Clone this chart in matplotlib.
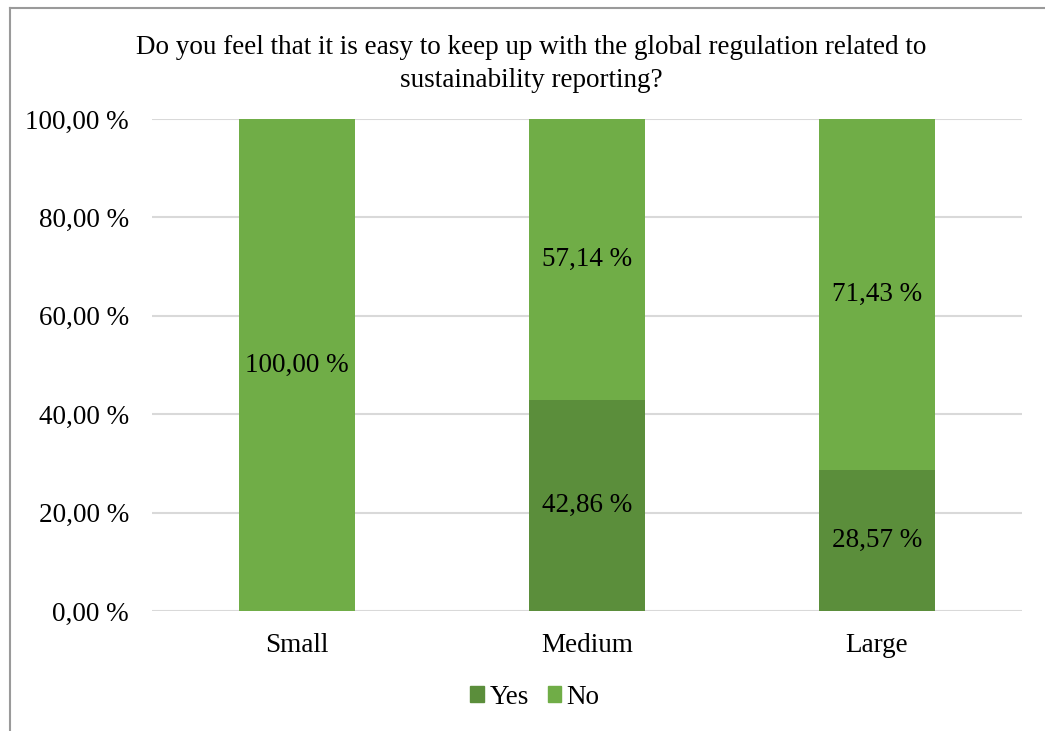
import matplotlib
matplotlib.use("Agg")
import matplotlib.pyplot as plt
from matplotlib.lines import Line2D

categories = ["Small", "Medium", "Large"]
yes_values = [0.0, 42.86, 28.57]
no_values = [100.0, 57.14, 71.43]
series_names = ["Yes", "No"]
yticks = [0, 20, 40, 60, 80, 100]

plt.rcParams["font.family"] = ["Liberation Serif", "DejaVu Serif"]

YES_COLOR = "#5B8E3B"
NO_COLOR = "#70AD47"

fig = plt.figure(figsize=(10.45, 7.31), dpi=100)
ax = fig.add_axes([152 / 1045, 1 - 611 / 731, 870 / 1045, 492 / 731])

x = list(range(len(categories)))
width = 0.4
ax.bar(x, yes_values, width, color=YES_COLOR, label=series_names[0], zorder=3)
ax.bar(x, no_values, width, bottom=yes_values, color=NO_COLOR,
       label=series_names[1], zorder=3)


def fmt(v):
    return f"{v:.2f}".replace(".", ",") + " %"


fs = 19.5
for i in x:
    if yes_values[i] > 0:
        ax.text(i, yes_values[i] / 2, fmt(yes_values[i]), ha="center",
                va="center", fontsize=fs, zorder=4)
    if no_values[i] > 0:
        ax.text(i, yes_values[i] + no_values[i] / 2, fmt(no_values[i]),
                ha="center", va="center", fontsize=fs, zorder=4)

ax.set_xlim(-0.5, 2.5)
ax.set_ylim(0, 100)
ax.set_yticks(yticks)
ax.set_yticklabels([fmt(v) for v in yticks], fontsize=fs)
ax.set_xticks(x)
ax.set_xticklabels(categories, fontsize=fs)
ax.tick_params(axis="both", length=0)
ax.tick_params(axis="y", pad=16.5)
ax.tick_params(axis="x", pad=16)
ax.grid(axis="y", color="#D9D9D9", linewidth=1.5, zorder=0)
for s in ax.spines.values():
    s.set_visible(False)

fig.text(531 / 1045, 1 - 64 / 731,
         "Do you feel that it is easy to keep up with the global regulation related to\nsustainability reporting?",
         ha="center", va="center", fontsize=fs, linespacing=1.4)

handles = [
    plt.Rectangle((0, 0), 1, 1, color=YES_COLOR),
    plt.Rectangle((0, 0), 1, 1, color=NO_COLOR),
]
fig.legend(handles, series_names, loc="center", bbox_to_anchor=(535 / 1045, 1 - 697 / 731),
           ncol=2, frameon=False, fontsize=fs, handlelength=0.5, handleheight=0.5,
           handletextpad=0.2, columnspacing=0.7, borderpad=0)

# frame lines along the top and left edges
fig.add_artist(Line2D([9.5 / 1045, 9.5 / 1045], [0, 1 - 7.5 / 731],
                      color="#9A9A9A", linewidth=1.5, transform=fig.transFigure))
fig.add_artist(Line2D([9.5 / 1045, 1], [1 - 7.5 / 731, 1 - 7.5 / 731],
                      color="#9A9A9A", linewidth=1.5, transform=fig.transFigure))

fig.savefig("out.png", dpi=100, facecolor="white")
